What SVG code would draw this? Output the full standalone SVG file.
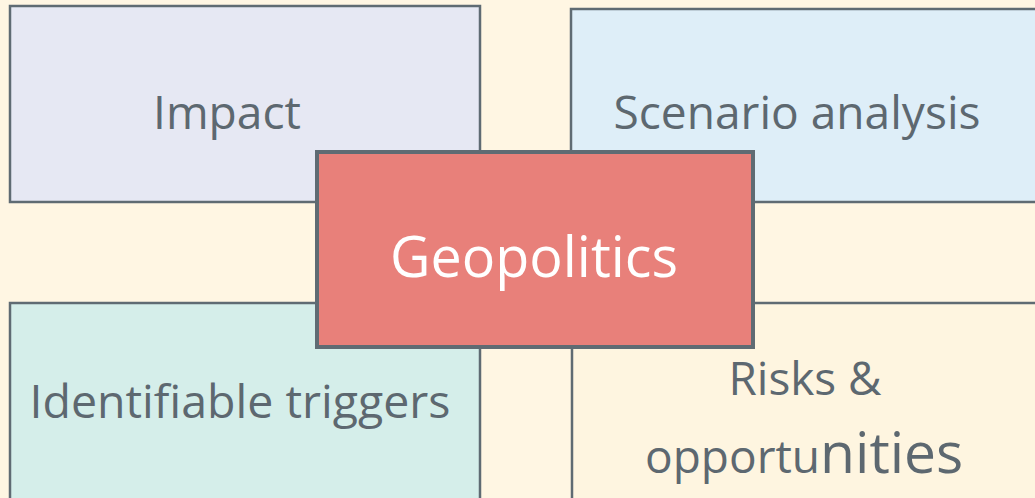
<svg xmlns="http://www.w3.org/2000/svg" width="1035" height="498" viewBox="0 0 1035 498">
  <style>
    .box { stroke: #5f6b73; stroke-width: 2.5; }
    .hub { fill: #e8807a; stroke: #5f6b73; stroke-width: 4; }
    .label { font-family: "Open Sans", "Noto Sans", "Liberation Sans", sans-serif; font-size: 46px; fill: #5d6870; }
    .hub-label { font-family: "Open Sans", "Noto Sans", "Liberation Sans", sans-serif; font-size: 56px; fill: #ffffff; }
  </style>
  <rect x="0" y="0" width="1035" height="498" fill="#fff6e3"/>

  <g id="connectors"></g>

  <g id="impact">
    <rect class="box" x="10" y="6" width="470" height="196" fill="#e6e8f3"/>
    <text class="label" x="227" y="129" text-anchor="middle" textLength="148" lengthAdjust="spacingAndGlyphs">Impact</text>
  </g>

  <g id="scenario-analysis">
    <rect class="box" x="571" y="9" width="480" height="193" fill="#deeef8"/>
    <text class="label" x="797" y="129" text-anchor="middle" textLength="367" lengthAdjust="spacingAndGlyphs">Scenario analysis</text>
  </g>

  <g id="identifiable-triggers">
    <rect class="box" x="10" y="303" width="470" height="220" fill="#d5eeea"/>
    <text class="label" x="240" y="418" text-anchor="middle" textLength="421" lengthAdjust="spacingAndGlyphs">Identifiable triggers</text>
  </g>

  <g id="risks-opportunities">
    <rect class="box" x="572" y="303" width="480" height="220" fill="#fef5e0"/>
    <text class="label" x="805" y="395" text-anchor="middle" textLength="153" lengthAdjust="spacingAndGlyphs">Risks &amp;</text>
    <text class="label" x="645" y="473">opportu<tspan font-size="57px">nities</tspan></text>
  </g>

  <g id="geopolitics">
    <rect class="hub" x="317" y="152" width="436" height="195"/>
    <text class="hub-label" x="534" y="277" text-anchor="middle" textLength="288" lengthAdjust="spacingAndGlyphs">Geopolitics</text>
  </g>
</svg>
